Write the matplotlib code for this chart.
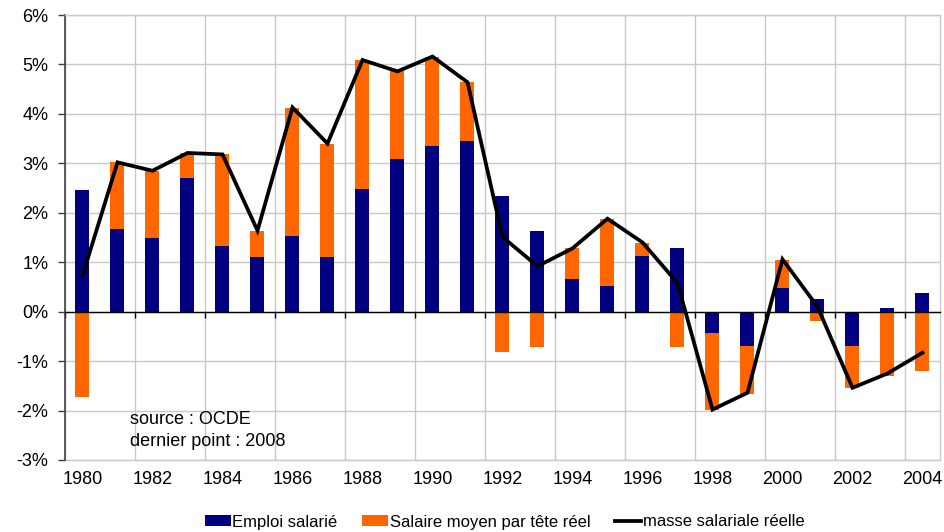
import numpy as np
import matplotlib
matplotlib.use("Agg")
import matplotlib.pyplot as plt
from matplotlib.ticker import FuncFormatter

plt.rcParams['font.family'] = ['Liberation Sans', 'DejaVu Sans']

years = list(range(1980, 2005))
emploi = [2.46, 1.67, 1.49, 2.71, 1.33, 1.11, 1.54, 1.11, 2.48, 3.09, 3.35, 3.46,
          2.33, 1.63, 0.66, 0.51, 1.13, 1.29, -0.43, -0.69, 0.47, 0.26, -0.69, 0.08, 0.38]
salaire = [-1.72, 1.35, 1.36, 0.50, 1.85, 0.53, 2.57, 2.29, 2.61, 1.78, 1.81, 1.19,
           -0.82, -0.71, 0.62, 1.37, 0.25, -0.71, -1.55, -0.97, 0.58, -0.18, -0.86, -1.30, -1.20]
masse = [0.73, 3.02, 2.85, 3.21, 3.18, 1.64, 4.13, 3.40, 5.09, 4.86, 5.16, 4.64,
         1.51, 0.92, 1.28, 1.88, 1.40, 0.58, -1.98, -1.64, 1.06, 0.10, -1.54, -1.25, -0.83]
ytick_vals = [-3, -2, -1, 0, 1, 2, 3, 4, 5, 6]

NAVY = '#000080'
ORANGE = '#FF6600'
GRID = '#C8C8C8'

fig = plt.figure(figsize=(9.45, 5.32), dpi=100)
ax = fig.add_axes([65/945, 1-460/532, 875/945, 445/532])

x = np.arange(len(years))
e = np.array(emploi)
s = np.array(salaire)
bottom_s = np.where(np.sign(s) == np.sign(e), e, 0.0)

b1 = ax.bar(x, e, width=0.4, color=NAVY, label='Emploi salarié', zorder=3)
b2 = ax.bar(x, s, width=0.4, bottom=bottom_s, color=ORANGE,
            label='Salaire moyen par tête réel', zorder=3)
l1, = ax.plot(x, masse, color='black', lw=2.7, label='masse salariale réelle', zorder=4,
              solid_joinstyle='miter')

ax.set_xlim(-0.5, len(years) - 0.5)
ax.set_ylim(-3, 6)
ax.set_yticks(ytick_vals)
ax.yaxis.set_major_formatter(FuncFormatter(lambda v, p: f"{int(round(v))}%"))

ax.set_xticks(np.arange(-0.5, len(years) - 0.5, 2))
ax.tick_params(axis='x', direction='out', length=4, width=1, color='black',
               labelbottom=False)
ax.tick_params(axis='y', direction='out', length=5, width=1, color='#404040',
               labelsize=13, pad=7)

ax.grid(True, color=GRID, lw=1, zorder=0)
ax.set_axisbelow(True)

ax.spines['bottom'].set_position(('data', 0))
ax.spines['bottom'].set_color('black')
ax.spines['bottom'].set_linewidth(1)
ax.spines['bottom'].set_zorder(5)
ax.spines['left'].set_color('#404040')
ax.spines['left'].set_linewidth(1.2)
for sp in ('top', 'right'):
    ax.spines[sp].set_color(GRID)
    ax.spines[sp].set_linewidth(1)

sec = ax.secondary_xaxis(0)
sec.set_xticks(x[::2])
sec.set_xticklabels([str(y) for y in years[::2]])
sec.tick_params(length=0, labelsize=13, pad=8)
sec.spines['bottom'].set_color(GRID)
sec.spines['bottom'].set_linewidth(1)

ax.text(130/945, 1-419/532, 'source : OCDE', transform=fig.transFigure,
        fontsize=13, va='center', ha='left')
ax.text(130/945, 1-441/532, 'dernier point : 2008', transform=fig.transFigure,
        fontsize=13, va='center', ha='left')

fig.legend(handles=[b1, b2, l1], loc='center', bbox_to_anchor=(0.534, 1-522/532),
           ncol=3, frameon=False, fontsize=12, handlelength=1.55, handleheight=0.6,
           handletextpad=0.1, columnspacing=1.5, borderaxespad=0, borderpad=0)

fig.savefig('out.png', dpi=100)
